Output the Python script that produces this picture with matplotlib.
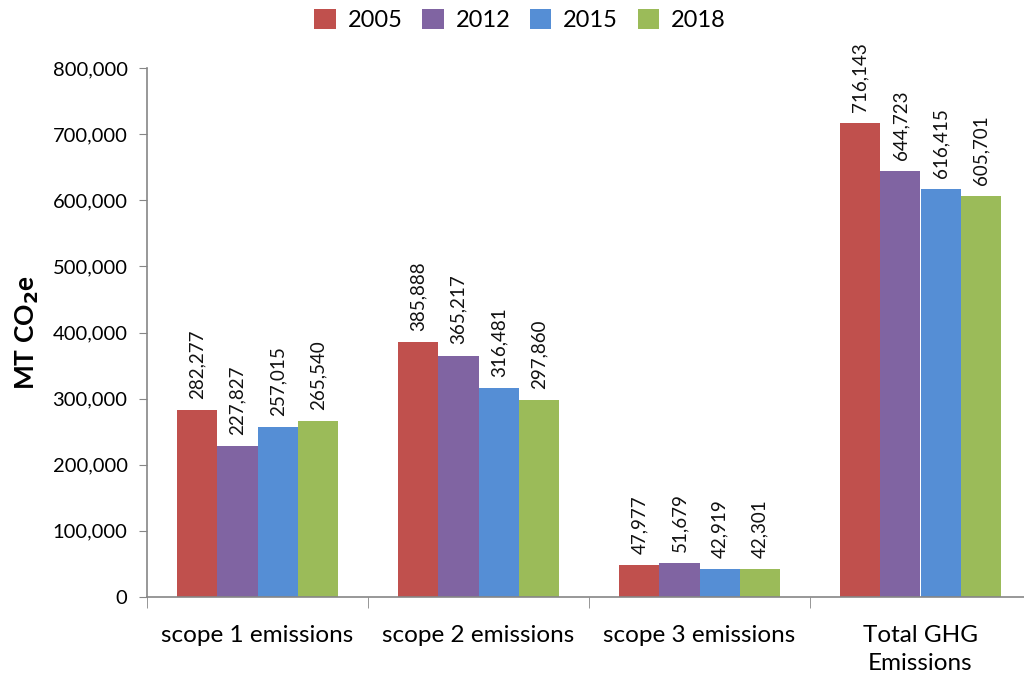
import matplotlib
matplotlib.use("Agg")
import matplotlib.pyplot as plt
import numpy as np
from matplotlib.ticker import FuncFormatter, FixedLocator

categories = ["scope 1 emissions", "scope 2 emissions", "scope 3 emissions", "Total GHG\nEmissions"]
years = ["2005", "2012", "2015", "2018"]
v2005 = [282277, 385888, 47977, 716143]
v2012 = [227827, 365217, 51679, 644723]
v2015 = [257015, 316481, 42919, 616415]
v2018 = [265540, 297860, 42301, 605701]
series = [v2005, v2012, v2015, v2018]
colors = ["#C0504D", "#8064A2", "#558ED5", "#9BBB59"]

plt.rcParams['font.family'] = ['Lato', 'DejaVu Sans']

fig = plt.figure(figsize=(10.24, 6.81), dpi=100)
ax = fig.add_axes([147/1024, 1-597/681, 884/1024, (597-68)/681])

x = np.arange(len(categories))
w = 0.182
for i, (vals, c, yr) in enumerate(zip(series, colors, years)):
    pos = x + (i - 1.5) * w
    ax.bar(pos, vals, w, color=c, label=yr, linewidth=0)
    for p, v in zip(pos, vals):
        ax.annotate(f"{v:,}", (p, v), xytext=(0, 8), textcoords="offset points",
                    rotation=90, ha="center", va="bottom", fontsize=13.5, color="#111111")

ax.set_xlim(-0.5, 3.5)
ax.set_ylim(0, 800000)
ax.yaxis.set_major_locator(FixedLocator(np.arange(0, 800001, 100000)))
ax.yaxis.set_major_formatter(FuncFormatter(lambda v, p: f"{int(v):,}"))
ax.set_xticks(x)
ax.set_xticklabels(categories, fontsize=17.5, linespacing=1.45)
ax.set_xticks(np.arange(-0.5, 3.6, 1), minor=True)
ax.tick_params(axis='x', which='major', length=0, pad=20)
ax.tick_params(axis='x', which='minor', length=8, color="#868686", direction='out')
ax.tick_params(axis='y', length=6, color="#868686", labelsize=14.5, pad=8)

for s in ["top", "right"]:
    ax.spines[s].set_visible(False)
for s in ["left", "bottom"]:
    ax.spines[s].set_color("#868686")
    ax.spines[s].set_linewidth(1.2)

ax.set_ylabel("MT CO$_\\mathbf{2}$e", fontsize=19, fontweight="bold", labelpad=8)

leg = fig.legend(loc="upper center", bbox_to_anchor=(0.508, 1.018), ncol=4, frameon=False,
                 fontsize=17, handlelength=0.9, handleheight=0.9, handletextpad=0.5,
                 columnspacing=0.85)

fig.savefig("out.png", dpi=100)
